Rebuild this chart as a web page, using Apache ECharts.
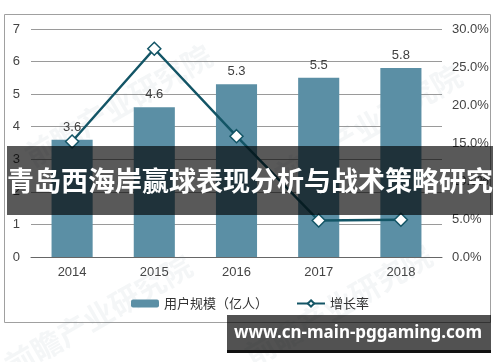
<!DOCTYPE html>
<html><head><meta charset="utf-8">
<script src="https://cdn.jsdelivr.net/npm/echarts@6/dist/echarts.min.js"></script>
<style>html,body{margin:0;padding:0;background:#fff}#c{width:500px;height:362px}</style>
</head><body><div id="c"></div>
<script>
var categories = ['2014','2015','2016','2017','2018'];
var userScale = [3.6, 4.6, 5.3, 5.5, 5.8];
var growthRate = [15.2, 27.4, 15.9, 4.8, 4.9];
var leftTicks = [0,1,2,3,4,5,6,7];
var rightTicks = ['0.0%','5.0%','10.0%','15.0%','20.0%','25.0%','30.0%'];

var chart = echarts.init(document.getElementById('c'));
var wm = function(x,y){return {type:'text',left:x,top:y,rotation:Math.PI/6,z:1,silent:true,
  style:{text:'前瞻产业研究院',fill:'rgba(120,140,150,0.08)',font:'bold 30px "Noto Sans CJK SC"'}};};
chart.setOption({
  animation:false,
  textStyle:{fontFamily:'"Liberation Sans", Arial, "Noto Sans CJK SC", sans-serif'},
  grid:{left:31,right:58,top:29,bottom:105,containLabel:false},
  xAxis:{type:'category',data:categories,
    axisLine:{lineStyle:{color:'#666',width:1}},axisTick:{show:false},
    axisLabel:{color:'#444',fontSize:13,margin:9}},
  yAxis:[
    {type:'value',min:0,max:7,interval:1,
     axisLine:{show:false},axisTick:{show:false},
     axisLabel:{color:'#444',fontSize:13,margin:11,formatter:function(v){return String(leftTicks[v]);}},
     splitLine:{lineStyle:{color:'#9a9a9a',width:1}}},
    {type:'value',min:0,max:30,interval:5,
     axisLine:{show:false},axisTick:{show:false},
     axisLabel:{color:'#444',fontSize:13,margin:10,formatter:function(v){return rightTicks[Math.round(v/5)];}},
     splitLine:{show:false}}
  ],
  legend:{left:'center',top:292,itemWidth:28,itemHeight:8,itemGap:28,
    textStyle:{color:'#333',fontSize:13,fontFamily:'"Noto Sans CJK SC", sans-serif'},
    data:['用户规模（亿人）','增长率']},
  series:[
    {name:'用户规模（亿人）',type:'bar',data:userScale,barWidth:'50%',
     itemStyle:{color:'#5b8fa5'},
     label:{show:true,position:'top',distance:6,color:'#404040',fontSize:13}},
    {name:'增长率',type:'line',yAxisIndex:1,data:growthRate,
     lineStyle:{color:'#135566',width:2.5},itemStyle:{color:'#fff',borderColor:'#135566',borderWidth:1.5},
     symbol:'diamond',symbolSize:13,z:5}
  ],
  graphic:[
    {type:'rect',shape:{x:4.5,y:14.5,width:486,height:308},style:{fill:'none',stroke:'#a0a0a0',lineWidth:1},z:0,silent:true},
    wm(20,40), wm(270,60), wm(0,250), wm(240,240),
    {type:'rect',shape:{x:7,y:146,width:486,height:69},style:{fill:'rgba(0,0,0,0.65)'},z:100,silent:true},
    {type:'text',x:250,y:181,z:101,silent:true,
     style:{text:'青岛西海岸赢球表现分析与战术策略研究',fill:'#fff',font:'bold 27px "Noto Sans CJK SC"',textAlign:'center',textVerticalAlign:'middle'}},
    {type:'rect',shape:{x:227,y:315,width:264,height:35},style:{fill:'rgba(0,0,0,0.68)'},z:100,silent:true},
    {type:'rect',shape:{x:227,y:350,width:264,height:3},style:{fill:'#111'},z:100,silent:true},
    {type:'text',x:358,y:333,z:101,silent:true,
     style:{text:'www.cn-main-pggaming.com',fill:'#fff',font:'bold 17px "Noto Sans"',textAlign:'center',textVerticalAlign:'middle'}}
  ]
});
</script></body></html>
